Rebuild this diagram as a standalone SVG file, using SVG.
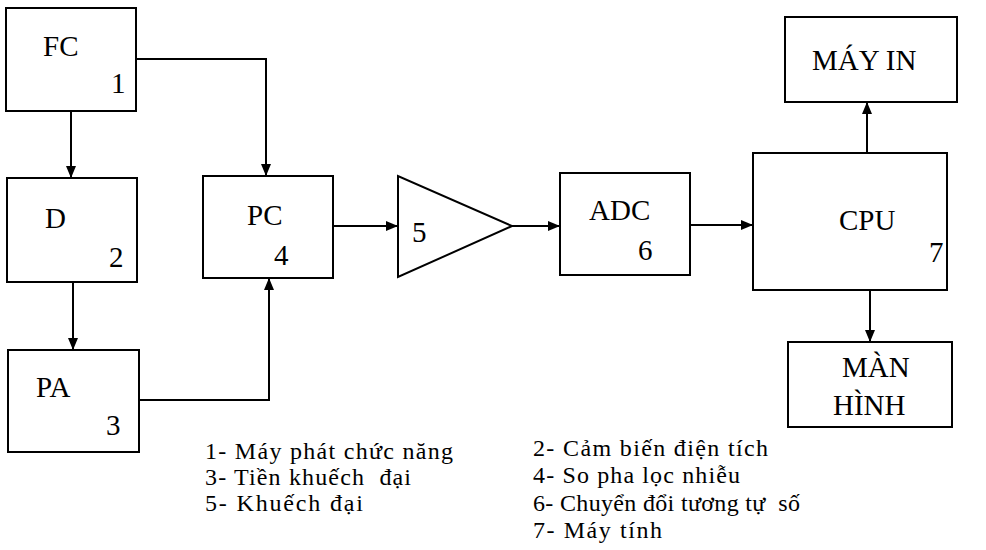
<svg xmlns="http://www.w3.org/2000/svg" width="986" height="550" viewBox="0 0 986 550">
<style>
.box{fill:#fff;stroke:#000;stroke-width:2}
.ln{fill:none;stroke:#000;stroke-width:2}
</style>
<defs>
<marker id="ah" viewBox="0 0 12 10" refX="12" refY="5" markerWidth="12" markerHeight="10" markerUnits="userSpaceOnUse" orient="auto">
<path d="M0,0 L12,5 L0,10 Z" fill="#000"/>
</marker>
</defs>
<rect width="986" height="550" fill="#fff"/>
<g id="connectors">
<path class="ln" d="M71,111 V178" marker-end="url(#ah)"/>
<path class="ln" d="M136,59 H266 V176" marker-end="url(#ah)"/>
<path class="ln" d="M73,282 V350" marker-end="url(#ah)"/>
<path class="ln" d="M139,400 H269 V278" marker-end="url(#ah)"/>
<path class="ln" d="M333,226 H398" marker-end="url(#ah)"/>
<path class="ln" d="M512,226 H560" marker-end="url(#ah)"/>
<path class="ln" d="M690,225 H753" marker-end="url(#ah)"/>
<path class="ln" d="M867,153 V102" marker-end="url(#ah)"/>
<path class="ln" d="M870,290 V342" marker-end="url(#ah)"/>
</g>
<g id="fc">
<rect class="box" x="6" y="8" width="130" height="103"/>
<text x="43" y="56" font-family="Liberation Serif" font-size="29">FC</text>
<text x="111" y="93" font-family="Liberation Serif" font-size="29">1</text>
</g>
<g id="d">
<rect class="box" x="7" y="178" width="130" height="104"/>
<text x="45" y="228" font-family="Liberation Serif" font-size="29">D</text>
<text x="109" y="267" font-family="Liberation Serif" font-size="29">2</text>
</g>
<g id="pa">
<rect class="box" x="8" y="350" width="131" height="102"/>
<text x="36" y="397" font-family="Liberation Serif" font-size="29">PA</text>
<text x="106" y="435" font-family="Liberation Serif" font-size="29">3</text>
</g>
<g id="pc">
<rect class="box" x="203" y="176" width="130" height="102"/>
<text x="247" y="225" font-family="Liberation Serif" font-size="29">PC</text>
<text x="274" y="265" font-family="Liberation Serif" font-size="29">4</text>
</g>
<g id="amp">
<polygon class="box" points="398,176 398,277 512,226"/>
<text x="412" y="242" font-family="Liberation Serif" font-size="29">5</text>
</g>
<g id="adc">
<rect class="box" x="560" y="173" width="130" height="102"/>
<text x="589" y="220" font-family="Liberation Serif" font-size="29">ADC</text>
<text x="638" y="260" font-family="Liberation Serif" font-size="29">6</text>
</g>
<g id="cpu">
<rect class="box" x="753" y="153" width="194" height="137"/>
<text x="839" y="230" font-family="Liberation Serif" font-size="29">CPU</text>
<text x="929" y="262" font-family="Liberation Serif" font-size="29">7</text>
</g>
<g id="mayin">
<rect class="box" x="785" y="17" width="172" height="85"/>
<text x="812" y="70" font-family="Liberation Serif" font-size="29">MÁY IN</text>
</g>
<g id="manhinh">
<rect class="box" x="788" y="342" width="164" height="85"/>
<text x="842" y="377" font-family="Liberation Serif" font-size="29">MÀN</text>
<text x="833" y="415" font-family="Liberation Serif" font-size="29">HÌNH</text>
</g>
<g id="legend">
<text x="205" y="459" font-family="Liberation Serif" font-size="24" textLength="248">1- Máy phát chức năng</text>
<text x="205" y="485" font-family="Liberation Serif" font-size="24" textLength="206" xml:space="preserve">3- Tiền khuếch  đại</text>
<text x="205" y="511" font-family="Liberation Serif" font-size="24" textLength="158">5- Khuếch đại</text>
<text x="533" y="456" font-family="Liberation Serif" font-size="24" textLength="235">2- Cảm biến điện tích</text>
<text x="533" y="483" font-family="Liberation Serif" font-size="24" textLength="207">4- So pha lọc nhiễu</text>
<text x="533" y="511" font-family="Liberation Serif" font-size="24" textLength="267" xml:space="preserve">6- Chuyển đổi tương tự  số</text>
<text x="533" y="538" font-family="Liberation Serif" font-size="24" textLength="129">7- Máy tính</text>
</g>
</svg>
